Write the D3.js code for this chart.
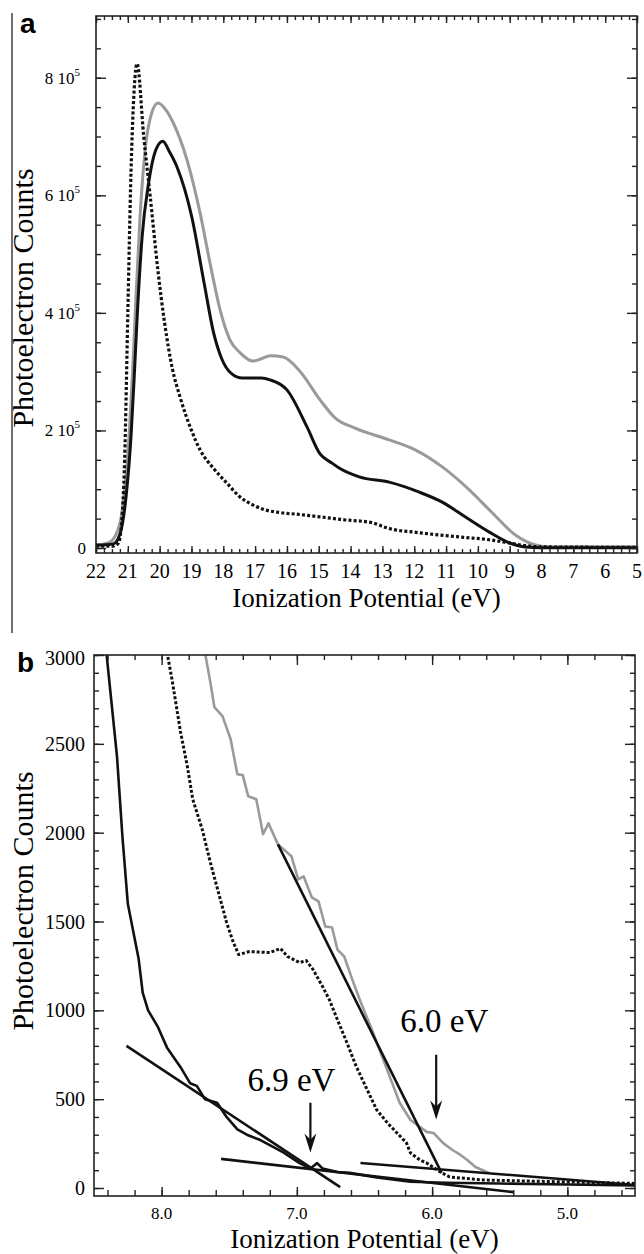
<!DOCTYPE html>
<html>
<head>
<meta charset="utf-8">
<script src="https://cdnjs.cloudflare.com/ajax/libs/d3/7.8.5/d3.min.js"></script>
<style>
  body { margin: 0; background: #fff; }
  svg { display: block; font-family: 'Liberation Serif', 'Times New Roman', serif; }
  .axis path.domain { display: none; }
  .axis line { stroke: #222; stroke-width: 1.4; }
</style>
</head>
<body>
<svg width="644" height="1254"></svg>
<script>
// panel a: full UPS spectra, [ionization potential (eV), counts]
var greyA = [[22.0, 5000], [21.8, 6000], [21.56, 10000], [21.25, 42000], [21.1, 100000], [20.95, 200000],
  [20.85, 300000], [20.75, 420000], [20.62, 560000], [20.45, 680000], [20.25, 740000], [20.05, 757000],
  [19.8, 745000], [19.57, 723000], [19.14, 660000], [18.73, 570000], [18.4, 480000], [18.1, 405000],
  [17.8, 355000], [17.47, 332000], [17.06, 318000], [16.8, 322000], [16.53, 327000], [16.12, 325000],
  [15.58, 300000], [14.96, 252000], [14.48, 221000], [13.86, 204000], [12.79, 184000], [11.97, 167000],
  [11.12, 138000], [10.27, 99000], [9.55, 60000], [8.82, 22000], [8.19, 5000], [7.8, 2000], [5.0, 2000]]
var blackA = [[22.0, 5000], [21.7, 5500], [21.45, 7000], [21.24, 25000], [21.05, 90000], [20.9, 190000],
  [20.8, 290000], [20.7, 400000], [20.55, 530000], [20.35, 620000], [20.1, 680000], [19.9, 692000],
  [19.7, 675000], [19.46, 649000], [18.99, 563000], [18.6, 450000], [18.3, 365000], [18.05, 322000],
  [17.75, 297000], [17.4, 289000], [16.8, 289000], [16.53, 286000], [16.0, 269000], [15.37, 206000],
  [14.96, 160000], [14.6, 145000], [14.36, 136000], [13.73, 121000], [12.79, 112000], [11.84, 95000],
  [11.12, 78000], [10.4, 53000], [9.64, 27000], [9.0, 8500], [8.5, 1700], [8.0, 500], [5.0, 500]]
var dottedA = [[22.0, 3000], [21.5, 3000], [21.3, 8000], [21.2, 40000], [21.1, 150000], [21.0, 400000],
  [20.9, 640000], [20.8, 780000], [20.71, 824000], [20.5, 700000], [20.3, 600000], [20.05, 470000],
  [19.85, 385000], [19.6, 305000], [19.36, 257000], [19.0, 200000], [18.73, 167000], [18.3, 135000],
  [17.88, 110000], [17.5, 88000], [17.06, 73000], [16.7, 65000], [16.31, 61000], [15.6, 57000],
  [14.96, 53000], [14.2, 48000], [13.32, 43000], [12.9, 35000], [12.7, 32000], [12.0, 27000],
  [11.2, 22000], [10.4, 18000], [9.64, 14000], [9.0, 8500], [8.5, 4000], [8.07, 2000], [7.0, 1500], [5.0, 1000]]

// panel b: threshold region
var greyB = [[7.70, 3100], [7.64, 2848], [7.61, 2707], [7.55, 2656], [7.49, 2527], [7.44, 2329], [7.40, 2324],
  [7.36, 2205], [7.30, 2188], [7.25, 1991], [7.21, 2053], [7.14, 1934], [7.04, 1867], [6.99, 1737],
  [6.95, 1754], [6.89, 1636], [6.84, 1613], [6.79, 1472], [6.74, 1466], [6.70, 1342], [6.65, 1303],
  [6.59, 1173], [6.53, 1050], [6.45, 900], [6.38, 760], [6.31, 620], [6.27, 540], [6.24, 480],
  [6.16, 383], [6.04, 316], [5.99, 310], [5.92, 254], [5.85, 214], [5.79, 186], [5.74, 158],
  [5.68, 118], [5.63, 101], [5.58, 85]]
var blackB = [[8.42, 3100], [8.33, 2430], [8.29, 1980], [8.25, 1600], [8.17, 1290], [8.14, 1100], [8.10, 1000],
  [8.03, 910], [7.96, 790], [7.86, 680], [7.79, 590], [7.74, 575], [7.68, 500], [7.59, 480], [7.52, 400],
  [7.44, 330], [7.37, 300], [7.27, 270], [7.10, 200], [6.98, 140], [6.90, 110], [6.85, 140], [6.81, 110],
  [6.70, 90], [6.61, 85], [6.41, 60], [6.16, 35], [5.9, 30], [5.5, 25], [5.0, 20], [4.5, 15]]
var dottedB = [[7.98, 3100], [7.92, 2848], [7.86, 2566], [7.81, 2374], [7.77, 2188], [7.70, 2019], [7.64, 1833],
  [7.58, 1664], [7.52, 1495], [7.47, 1382], [7.43, 1314], [7.35, 1331], [7.20, 1325], [7.12, 1348],
  [7.07, 1303], [6.98, 1269], [6.93, 1280], [6.88, 1229], [6.81, 1134], [6.76, 1060], [6.70, 947],
  [6.63, 818], [6.56, 682], [6.48, 553], [6.41, 440], [6.33, 366], [6.26, 310], [6.19, 254], [6.16, 197],
  [6.09, 158], [6.04, 141], [5.94, 90], [5.87, 62], [5.62, 45], [5.0, 34], [4.5, 26]]

// linear fits used for the onset estimates
var fitLines = [[[8.26, 800], [6.68, 5]], [[7.56, 164], [5.40, -23]], [[7.14, 1934], [5.93, 85]], [[6.53, 141], [4.5, 17]]]
var onsetLabels = ['6.9 eV', '6.0 eV']
var onsetArrows = [[6.9, 480, 200], [5.97, 750, 385]]
var onsetText = [[7.04, 545], [5.91, 880]]

var xTicksA = d3.range(5, 23)
var yTicksA = [0, 200000, 400000, 600000, 800000]
var xTicksB = [8, 7, 6, 5]
var yTicksB = d3.range(0, 3001, 500)

var svg = d3.select('svg')

svg.append('line')
  .attr('x1', 12).attr('x2', 12).attr('y1', 13).attr('y2', 633)
  .attr('stroke', '#333').attr('stroke-width', 1.4)

function frameAxes(g, x, y, xMajor, xMinor, yMajor, yMinor, tick) {
  var x0 = x.range()[0], x1 = x.range()[1], y0 = y.range()[0], y1 = y.range()[1]
  var parts = [
    [d3.axisBottom, x, 'translate(0,' + y0 + ')', xMajor, -tick.xb[0]],
    [d3.axisBottom, x, 'translate(0,' + y0 + ')', xMinor, -tick.xb[1]],
    [d3.axisTop, x, 'translate(0,' + y1 + ')', xMajor, -tick.xt[0]],
    [d3.axisTop, x, 'translate(0,' + y1 + ')', xMinor, -tick.xt[1]],
    [d3.axisLeft, y, 'translate(' + x0 + ',0)', yMajor, -tick.y[0]],
    [d3.axisLeft, y, 'translate(' + x0 + ',0)', yMinor, -tick.y[1]],
    [d3.axisRight, y, 'translate(' + x1 + ',0)', yMajor, -tick.y[0]],
    [d3.axisRight, y, 'translate(' + x1 + ',0)', yMinor, -tick.y[1]]
  ]
  parts.forEach(function(p) {
    g.append('g')
      .attr('class', 'axis')
      .attr('transform', p[2])
      .call(p[0](p[1]).tickValues(p[3]).tickSize(p[4]).tickFormat(''))
  })
  g.append('rect')
    .attr('x', x0).attr('y', y1)
    .attr('width', x1 - x0).attr('height', y0 - y1)
    .attr('fill', 'none').attr('stroke', '#222').attr('stroke-width', 1.6)
}

function drawSeries(g, x, y, data, color, dash, width, curve, clip) {
  var line = d3.line()
    .x(function(d) { return x(d[0]) })
    .y(function(d) { return y(d[1]) })
    .curve(curve)
  g.append('path')
    .datum(data)
    .attr('clip-path', 'url(#' + clip + ')')
    .attr('fill', 'none')
    .attr('stroke', color)
    .attr('stroke-width', width)
    .attr('stroke-dasharray', dash)
    .attr('stroke-linejoin', 'round')
    .attr('d', line)
}

function addClip(id, x, y) {
  svg.append('defs').append('clipPath').attr('id', id)
    .append('rect')
    .attr('x', x.range()[0]).attr('y', y.range()[1])
    .attr('width', x.range()[1] - x.range()[0])
    .attr('height', y.range()[0] - y.range()[1])
}

// ---------- panel a ----------
var xA = d3.scaleLinear().domain([22, 5]).range([96, 637])
var yA = d3.scaleLinear().domain([-8500, 905000]).range([553, 16])
var gA = svg.append('g')
addClip('clipA', xA, yA)

drawSeries(gA, xA, yA, greyA, '#9a9a9a', null, 3, d3.curveMonotoneX, 'clipA')
drawSeries(gA, xA, yA, blackA, '#111', null, 3, d3.curveMonotoneX, 'clipA')
drawSeries(gA, xA, yA, dottedA, '#111', '3,2.2', 3.2, d3.curveMonotoneX, 'clipA')

frameAxes(gA, xA, yA, xTicksA, d3.range(20, 89).map(function(d) { return d / 4 }),
  yTicksA, d3.range(0, 900001, 50000), {xb: [7, 4], xt: [7, 4], y: [10, 5]})

gA.selectAll('.xlab')
  .data(xTicksA)
  .enter().append('text')
  .attr('x', function(d) { return xA(d) })
  .attr('y', 578)
  .attr('text-anchor', 'middle')
  .attr('font-size', 20)
  .text(function(d) { return d })

var ylabA = gA.selectAll('.ylab')
  .data(yTicksA)
  .enter().append('text')
  .attr('x', function(d) { return d === 0 ? 86 : 80 })
  .attr('y', function(d) { return yA(d) + 6 })
  .attr('text-anchor', 'end')
  .attr('font-size', 17)
ylabA.each(function(d) {
  var t = d3.select(this)
  if (d === 0) { t.text('0'); return }
  t.append('tspan').text((d / 100000) + ' 10')
  t.append('tspan').attr('font-size', 11).attr('dy', -8).text('5')
})

gA.append('text')
  .attr('x', (xA.range()[0] + xA.range()[1]) / 2)
  .attr('y', 607)
  .attr('text-anchor', 'middle')
  .attr('font-size', 27)
  .text('Ionization Potential (eV)')
gA.append('text')
  .attr('transform', 'translate(33,298) rotate(-90)')
  .attr('text-anchor', 'middle')
  .attr('font-size', 30)
  .text('Photoelectron Counts')
gA.append('text')
  .attr('x', 20).attr('y', 33)
  .attr('font-family', "'Liberation Sans', Arial, sans-serif")
  .attr('font-weight', 'bold')
  .attr('font-size', 28)
  .text('a')

// ---------- panel b ----------
var xB = d3.scaleLinear().domain([8.5, 4.5]).range([94, 635])
var yB = d3.scaleLinear().domain([-45, 3000]).range([1196, 655])
var gB = svg.append('g')
addClip('clipB', xB, yB)

drawSeries(gB, xB, yB, greyB, '#9a9a9a', null, 2.6, d3.curveLinear, 'clipB')
drawSeries(gB, xB, yB, dottedB, '#111', '3,2', 3, d3.curveLinear, 'clipB')
drawSeries(gB, xB, yB, blackB, '#111', null, 2.6, d3.curveLinear, 'clipB')
fitLines.forEach(function(l) {
  drawSeries(gB, xB, yB, l, '#111', null, 2.6, d3.curveLinear, 'clipB')
})

frameAxes(gB, xB, yB, xTicksB, d3.range(23, 43).map(function(d) { return d / 5 }),
  yTicksB, d3.range(0, 3001, 100), {xb: [9, 6], xt: [10, 5], y: [10, 5]})

gB.selectAll('.xlab')
  .data(xTicksB)
  .enter().append('text')
  .attr('x', function(d) { return xB(d) })
  .attr('y', 1219)
  .attr('text-anchor', 'middle')
  .attr('font-size', 17)
  .text(function(d) { return d.toFixed(1) })

gB.selectAll('.ylab')
  .data(yTicksB)
  .enter().append('text')
  .attr('x', 85)
  .attr('y', function(d) { return yB(d) + (d === 3000 ? 10 : 7) })
  .attr('text-anchor', 'end')
  .attr('font-size', 20)
  .text(function(d) { return d })

// onset arrows and labels
onsetArrows.forEach(function(a, i) {
  var ax = xB(a[0]), top = yB(a[1]), tip = yB(a[2])
  gB.append('line')
    .attr('x1', ax).attr('x2', ax)
    .attr('y1', top).attr('y2', tip - 6)
    .attr('stroke', '#111').attr('stroke-width', 2.2)
  gB.append('path')
    .attr('d', 'M' + (ax - 6) + ',' + (tip - 19) + 'L' + ax + ',' + tip + 'L' + (ax + 6) + ',' + (tip - 19) + 'L' + ax + ',' + (tip - 13) + 'Z')
    .attr('fill', '#111')
  gB.append('text')
    .attr('x', xB(onsetText[i][0]))
    .attr('y', yB(onsetText[i][1]))
    .attr('text-anchor', 'middle')
    .attr('font-size', 33)
    .text(onsetLabels[i])
})

gB.append('text')
  .attr('x', (xB.range()[0] + xB.range()[1]) / 2)
  .attr('y', 1248)
  .attr('text-anchor', 'middle')
  .attr('font-size', 27)
  .text('Ionization Potential (eV)')
gB.append('text')
  .attr('transform', 'translate(33,901) rotate(-90)')
  .attr('text-anchor', 'middle')
  .attr('font-size', 30)
  .text('Photoelectron Counts')
gB.append('text')
  .attr('x', 17).attr('y', 672)
  .attr('font-family', "'Liberation Sans', Arial, sans-serif")
  .attr('font-weight', 'bold')
  .attr('font-size', 28)
  .text('b')
</script>
</body>
</html>
